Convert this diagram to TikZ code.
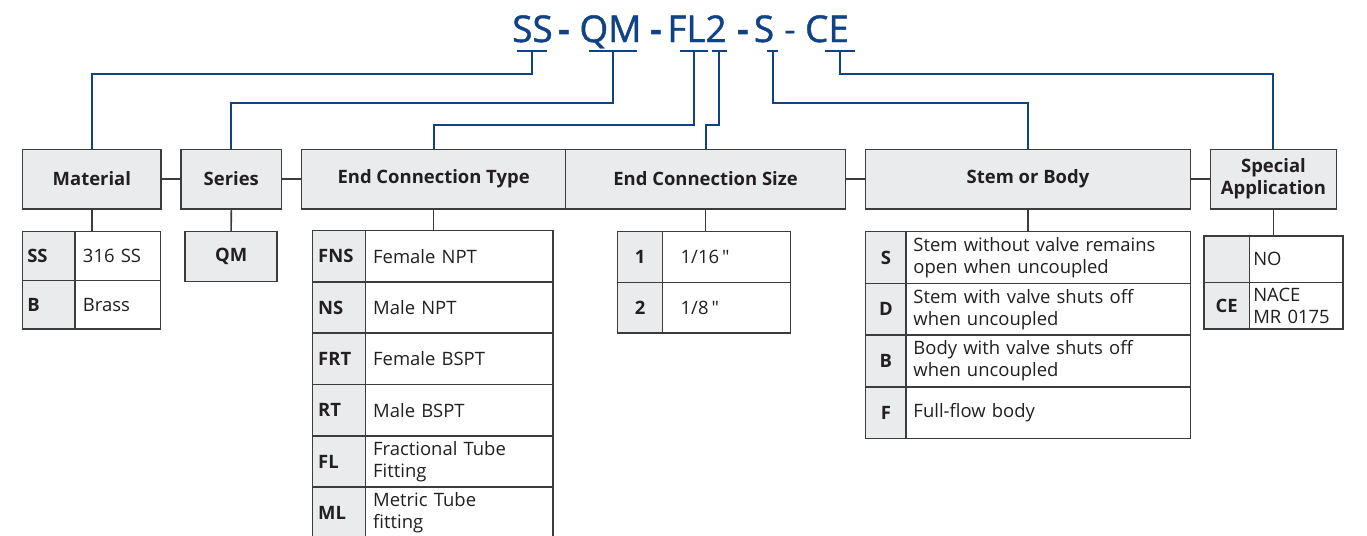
\documentclass[tikz,border=0pt]{standalone}
\usepackage{fontspec}
\setmainfont{Open Sans}
\newfontfamily\titlefont[FakeBold=1.2]{Open Sans}
\usepackage{tikz}
\usetikzlibrary{positioning}
\definecolor{pnBlue}{RGB}{16,66,134}
\definecolor{pnGray}{RGB}{234,235,237}
\definecolor{pnLine}{RGB}{60,60,60}
\definecolor{pnText}{RGB}{35,31,32}

\begin{document}
\begin{tikzpicture}[x=0.02cm,y=-0.02cm,text=pnText,
  font=\fontsize{10.5}{12.5}\selectfont,
  hdr/.style={draw=pnLine,fill=pnGray,line width=0.9pt,inner sep=0pt,outer sep=0pt,minimum height=1.19cm,align=center,font=\fontsize{10.5}{12.5}\selectfont\bfseries},
  cell/.style={draw=pnLine,line width=0.9pt,inner sep=0pt,outer sep=0pt},
  code/.style={cell,fill=pnGray,font=\fontsize{10.5}{12.5}\selectfont\bfseries},
  desc/.style={cell,fill=white,align=left},
  matc/.style={code,minimum height=0.975cm,text width=0.854cm,inner xsep=0.1cm,align=left},
  matd/.style={desc,minimum height=0.975cm,text width=1.394cm,inner xsep=0.16cm},
  ectc/.style={code,minimum height=1.026cm,text width=0.84cm,inner xsep=0.11cm,align=left},
  ectd/.style={desc,minimum height=1.026cm,text width=3.452cm,inner xsep=0.15cm},
  ecsc/.style={code,minimum height=1.015cm,minimum width=0.9cm},
  ecsd/.style={desc,minimum height=1.015cm,text width=1.84cm,inner xsep=0.36cm},
  sobc/.style={code,minimum height=1.034cm,minimum width=0.806cm},
  sobd/.style={desc,minimum height=1.034cm,text width=5.394cm,inner xsep=0.15cm},
  spac/.style={code,minimum height=0.93cm,minimum width=0.906cm},
  spad/.style={desc,minimum height=0.93cm,text width=1.72cm,inner xsep=0.08cm},
  tie/.style={draw=pnLine,line width=0.9pt},
  bus/.style={draw=pnBlue,line width=1.1pt},
  part/.style={text=pnBlue,anchor=base,inner sep=0pt,font=\fontsize{21}{24}\selectfont\titlefont}]
\useasboundingbox (0,0) rectangle (1367,535);
% part number
\node[part] (tSS) at (532.5,42) {SS};
\node[part,font=\fontsize{21}{24}\selectfont\bfseries] (dash1) at (564,42) {-};
\node[part] (tQM) at (610.5,42) {QM};
\node[part,font=\fontsize{21}{24}\selectfont\bfseries] (dash2) at (656.5,42) {-};
\node[part] (tFL) at (697,42) {FL2};
\node[part,font=\fontsize{21}{24}\selectfont\bfseries] (dash3) at (743,42) {-};
\node[part] (tS) at (764,42) {S};
\node[part,font=\fontsize{21}{24}\selectfont] (dash4) at (790,42) {-};
\node[part] (tCE) at (827,42) {CE};
\coordinate (uSS) at (531.7,51);
\coordinate (uQM) at (612.8,51);
\coordinate (uFL) at (693.8,51);
\coordinate (u2) at (719.2,51);
\coordinate (uS) at (772.5,51);
\coordinate (uCE) at (840,51);
% headers
\node[hdr,minimum width=2.766cm,anchor=north west] (mat) at (22.7,149.3) {Material};
\node[hdr,minimum width=2.014cm,right=0.4cm of mat] (ser) {Series};
\node[hdr,minimum width=5.28cm,right=0.4cm of ser] (ect) {End Connection Type};
\node[hdr,minimum width=5.6cm,right=0pt of ect] (ecs) {End Connection Size};
\node[hdr,minimum width=6.5cm,right=0.4cm of ecs] (sob) {Stem or Body};
\node[hdr,minimum width=2.52cm,right=0.4cm of sob] (spa) {Special\\Application};
\draw[tie] (mat) -- (ser);
\draw[tie] (ser) -- (ect);
\draw[tie] (ecs) -- (sob);
\draw[tie] (sob) -- (spa);
% material
\node[matc,anchor=north west] (matc1) at (22.3,231.7) {SS};
\node[matd,right=0pt of matc1] (matd1) {316 SS};
\node[matc,below=0pt of matc1] (matc2) {B};
\node[matd,right=0pt of matc2] (matd2) {Brass};
\draw[tie] (mat.south) -- (mat.south |- matc1.north);
% series
\node[code,minimum width=1.846cm,minimum height=1cm,anchor=north west] (qm) at (185,231.7) {QM};
\draw[tie] (ser.south) -- (qm.north);
% end connection type
\node[ectc,anchor=north west] (ectc1) at (312.7,230.7) {FNS};
\node[ectd,right=0pt of ectc1] (ectd1) {Female NPT};
\node[ectc,below=0pt of ectc1] (ectc2) {NS};
\node[ectd,right=0pt of ectc2] (ectd2) {Male NPT};
\node[ectc,below=0pt of ectc2] (ectc3) {FRT};
\node[ectd,right=0pt of ectc3] (ectd3) {Female BSPT};
\node[ectc,below=0pt of ectc3] (ectc4) {RT};
\node[ectd,right=0pt of ectc4] (ectd4) {Male BSPT};
\node[ectc,below=0pt of ectc4] (ectc5) {FL};
\node[ectd,right=0pt of ectc5] (ectd5) {Fractional Tube\\Fitting};
\node[ectc,below=0pt of ectc5] (ectc6) {ML};
\node[ectd,right=0pt of ectc6] (ectd6) {Metric Tube\\fitting};
\draw[tie] (ect.south) -- (ect.south |- ectc1.north);
% end connection size
\node[ecsc,anchor=north west] (ecsc1) at (617.7,231.7) {1};
\node[ecsd,right=0pt of ecsc1] (ecsd1) {1/16\,\textquotedbl};
\node[ecsc,below=0pt of ecsc1] (ecsc2) {2};
\node[ecsd,right=0pt of ecsc2] (ecsd2) {1/8\,\textquotedbl};
\draw[tie] (ecs.south) -- (ecs.south |- ecsc1.north);
% stem or body
\node[sobc,anchor=north west] (sobc1) at (865.7,231.7) {S};
\node[sobd,right=0pt of sobc1] (sobd1) {Stem without valve remains\\open when uncoupled};
\node[sobc,below=0pt of sobc1] (sobc2) {D};
\node[sobd,right=0pt of sobc2] (sobd2) {Stem with valve shuts off\\when uncoupled};
\node[sobc,below=0pt of sobc2] (sobc3) {B};
\node[sobd,right=0pt of sobc3] (sobd3) {Body with valve shuts off\\when uncoupled};
\node[sobc,below=0pt of sobc3] (sobc4) {F};
\node[sobd,right=0pt of sobc4] (sobd4) {Full-flow body};
\draw[tie] (sob.south) -- (sob.south |- sobc1.north);
% special application
\node[spac,anchor=north west] (spac1) at (1204,236) {};
\node[spad,right=0pt of spac1] (spad1) {NO};
\node[spac,below=0pt of spac1] (spac2) {CE};
\node[spad,right=0pt of spac2] (spad2) {NACE\\MR 0175};
\draw[tie] (spa.south) -- (spa.south |- spac1.north);
% code brackets
\draw[bus] (uSS) ++(-15,0) -- ++(30,0);
\draw[bus] (uQM) ++(-23.8,0) -- ++(47.6,0);
\draw[bus] (uFL) ++(-13.8,0) -- ++(27.6,0);
\draw[bus] (u2) ++(-7.5,0) -- ++(15,0);
\draw[bus] (uS) ++(-5.8,0) -- ++(11.6,0);
\draw[bus] (uCE) ++(-15,0) -- ++(30,0);
\draw[bus] (uSS) -- ++(0,23) -| (mat.north);
\draw[bus] (613.3,51) -- ++(0,51.7) -| (ser.north);
\draw[bus] (694.3,51) -- ++(0,74) -| (ect.north);
\draw[bus] (u2) -- ++(0,74) -| (ecs.north);
\draw[bus] (773.3,51) -- ++(0,51.7) -| (sob.north);
\draw[bus] (uCE) -- ++(0,23) -| (spa.north);
\end{tikzpicture}
\end{document}
